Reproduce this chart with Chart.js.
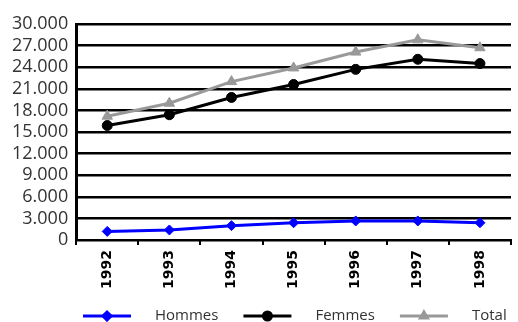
<!DOCTYPE html>
<html>
<head>
<meta charset="utf-8">
<script src="https://cdn.jsdelivr.net/npm/chart.js@4/dist/chart.umd.min.js"></script>
<style>
  html, body { margin: 0; padding: 0; background: #fff; }
  #wrap { width: 518px; height: 322px; }
</style>
</head>
<body>
<div id="wrap"><canvas id="chart"></canvas></div>
<script>
// Data
const years = ['1992', '1993', '1994', '1995', '1996', '1997', '1998'];
const hommes = [1200, 1400, 2000, 2400, 2650, 2650, 2400];
const femmes = [15900, 17400, 19800, 21600, 23700, 25100, 24500];
const total = [17200, 19000, 22000, 23900, 26100, 27800, 26700];
const yTicks = [0, 3000, 6000, 9000, 12000, 15000, 18000, 21000, 24000, 27000, 30000];

// Legend drawn as line + marker + label, like the original
const lineLegend = {
    id: 'lineLegend',
    afterDraw(chart) {
        const ctx = chart.ctx;
        const y = 316;
        let x = 83;
        ctx.save();
        ctx.font = '15px "Open Sans"';
        ctx.textBaseline = 'middle';
        chart.data.datasets.forEach(ds => {
            ctx.strokeStyle = ds.borderColor;
            ctx.fillStyle = ds.borderColor;
            ctx.lineWidth = 3;
            ctx.beginPath();
            ctx.moveTo(x, y);
            ctx.lineTo(x + 48, y);
            ctx.stroke();
            Chart.helpers.drawPoint(ctx, {
                pointStyle: ds.pointStyle,
                radius: 4,
                rotation: 0,
                borderWidth: 1
            }, x + 24, y);
            ctx.fillStyle = '#333';
            ctx.fillText(ds.label, x + 72, y);
            x += 72 + ctx.measureText(ds.label).width + 25;
        });
        ctx.restore();
    }
};

const ctx = document.getElementById('chart').getContext('2d');
new Chart(ctx, {
    type: 'line',
    data: {
        labels: years,
        datasets: [{
            label: 'Hommes',
            data: hommes,
            borderColor: '#0000ff',
            backgroundColor: '#0000ff',
            pointStyle: 'rectRot',
            pointRadius: 5
        }, {
            label: 'Femmes',
            data: femmes,
            borderColor: '#000000',
            backgroundColor: '#000000',
            pointStyle: 'circle',
            pointRadius: 5
        }, {
            label: 'Total',
            data: total,
            borderColor: '#999999',
            backgroundColor: '#999999',
            pointStyle: 'triangle',
            pointRadius: 6
        }]
    },
    options: {
        responsive: true,
        maintainAspectRatio: false,
        animation: false,
        elements: {
            line: { borderWidth: 3, tension: 0 },
            point: { borderWidth: 1 }
        },
        layout: { padding: { top: 24, right: 0, left: 4, bottom: 28 } },
        plugins: {
            legend: { display: false },
            tooltip: { enabled: false }
        },
        scales: {
            x: {
                offset: true,
                grid: {
                    offset: true,
                    drawOnChartArea: false,
                    color: '#000',
                    tickLength: 5,
                    lineWidth: 2
                },
                border: { color: '#000', width: 2 },
                ticks: {
                    color: '#000',
                    maxRotation: 90,
                    minRotation: 90,
                    autoSkip: false,
                    padding: 5,
                    font: { family: 'DejaVu Sans', weight: 'bold', size: 14 }
                }
            },
            y: {
                min: 0,
                max: 30000,
                afterBuildTicks(axis) {
                    axis.ticks = yTicks.map(v => ({ value: v }));
                },
                grid: {
                    color: '#000',
                    lineWidth: 2.5,
                    drawTicks: false
                },
                border: { color: '#000', width: 3 },
                ticks: {
                    color: '#333',
                    padding: 8,
                    autoSkip: false,
                    font: { family: 'Open Sans', size: 18, lineHeight: 1 },
                    callback: function(value) {
                        return value.toLocaleString('de-DE');
                    }
                }
            }
        }
    },
    plugins: [lineLegend]
});
</script>
</body>
</html>
